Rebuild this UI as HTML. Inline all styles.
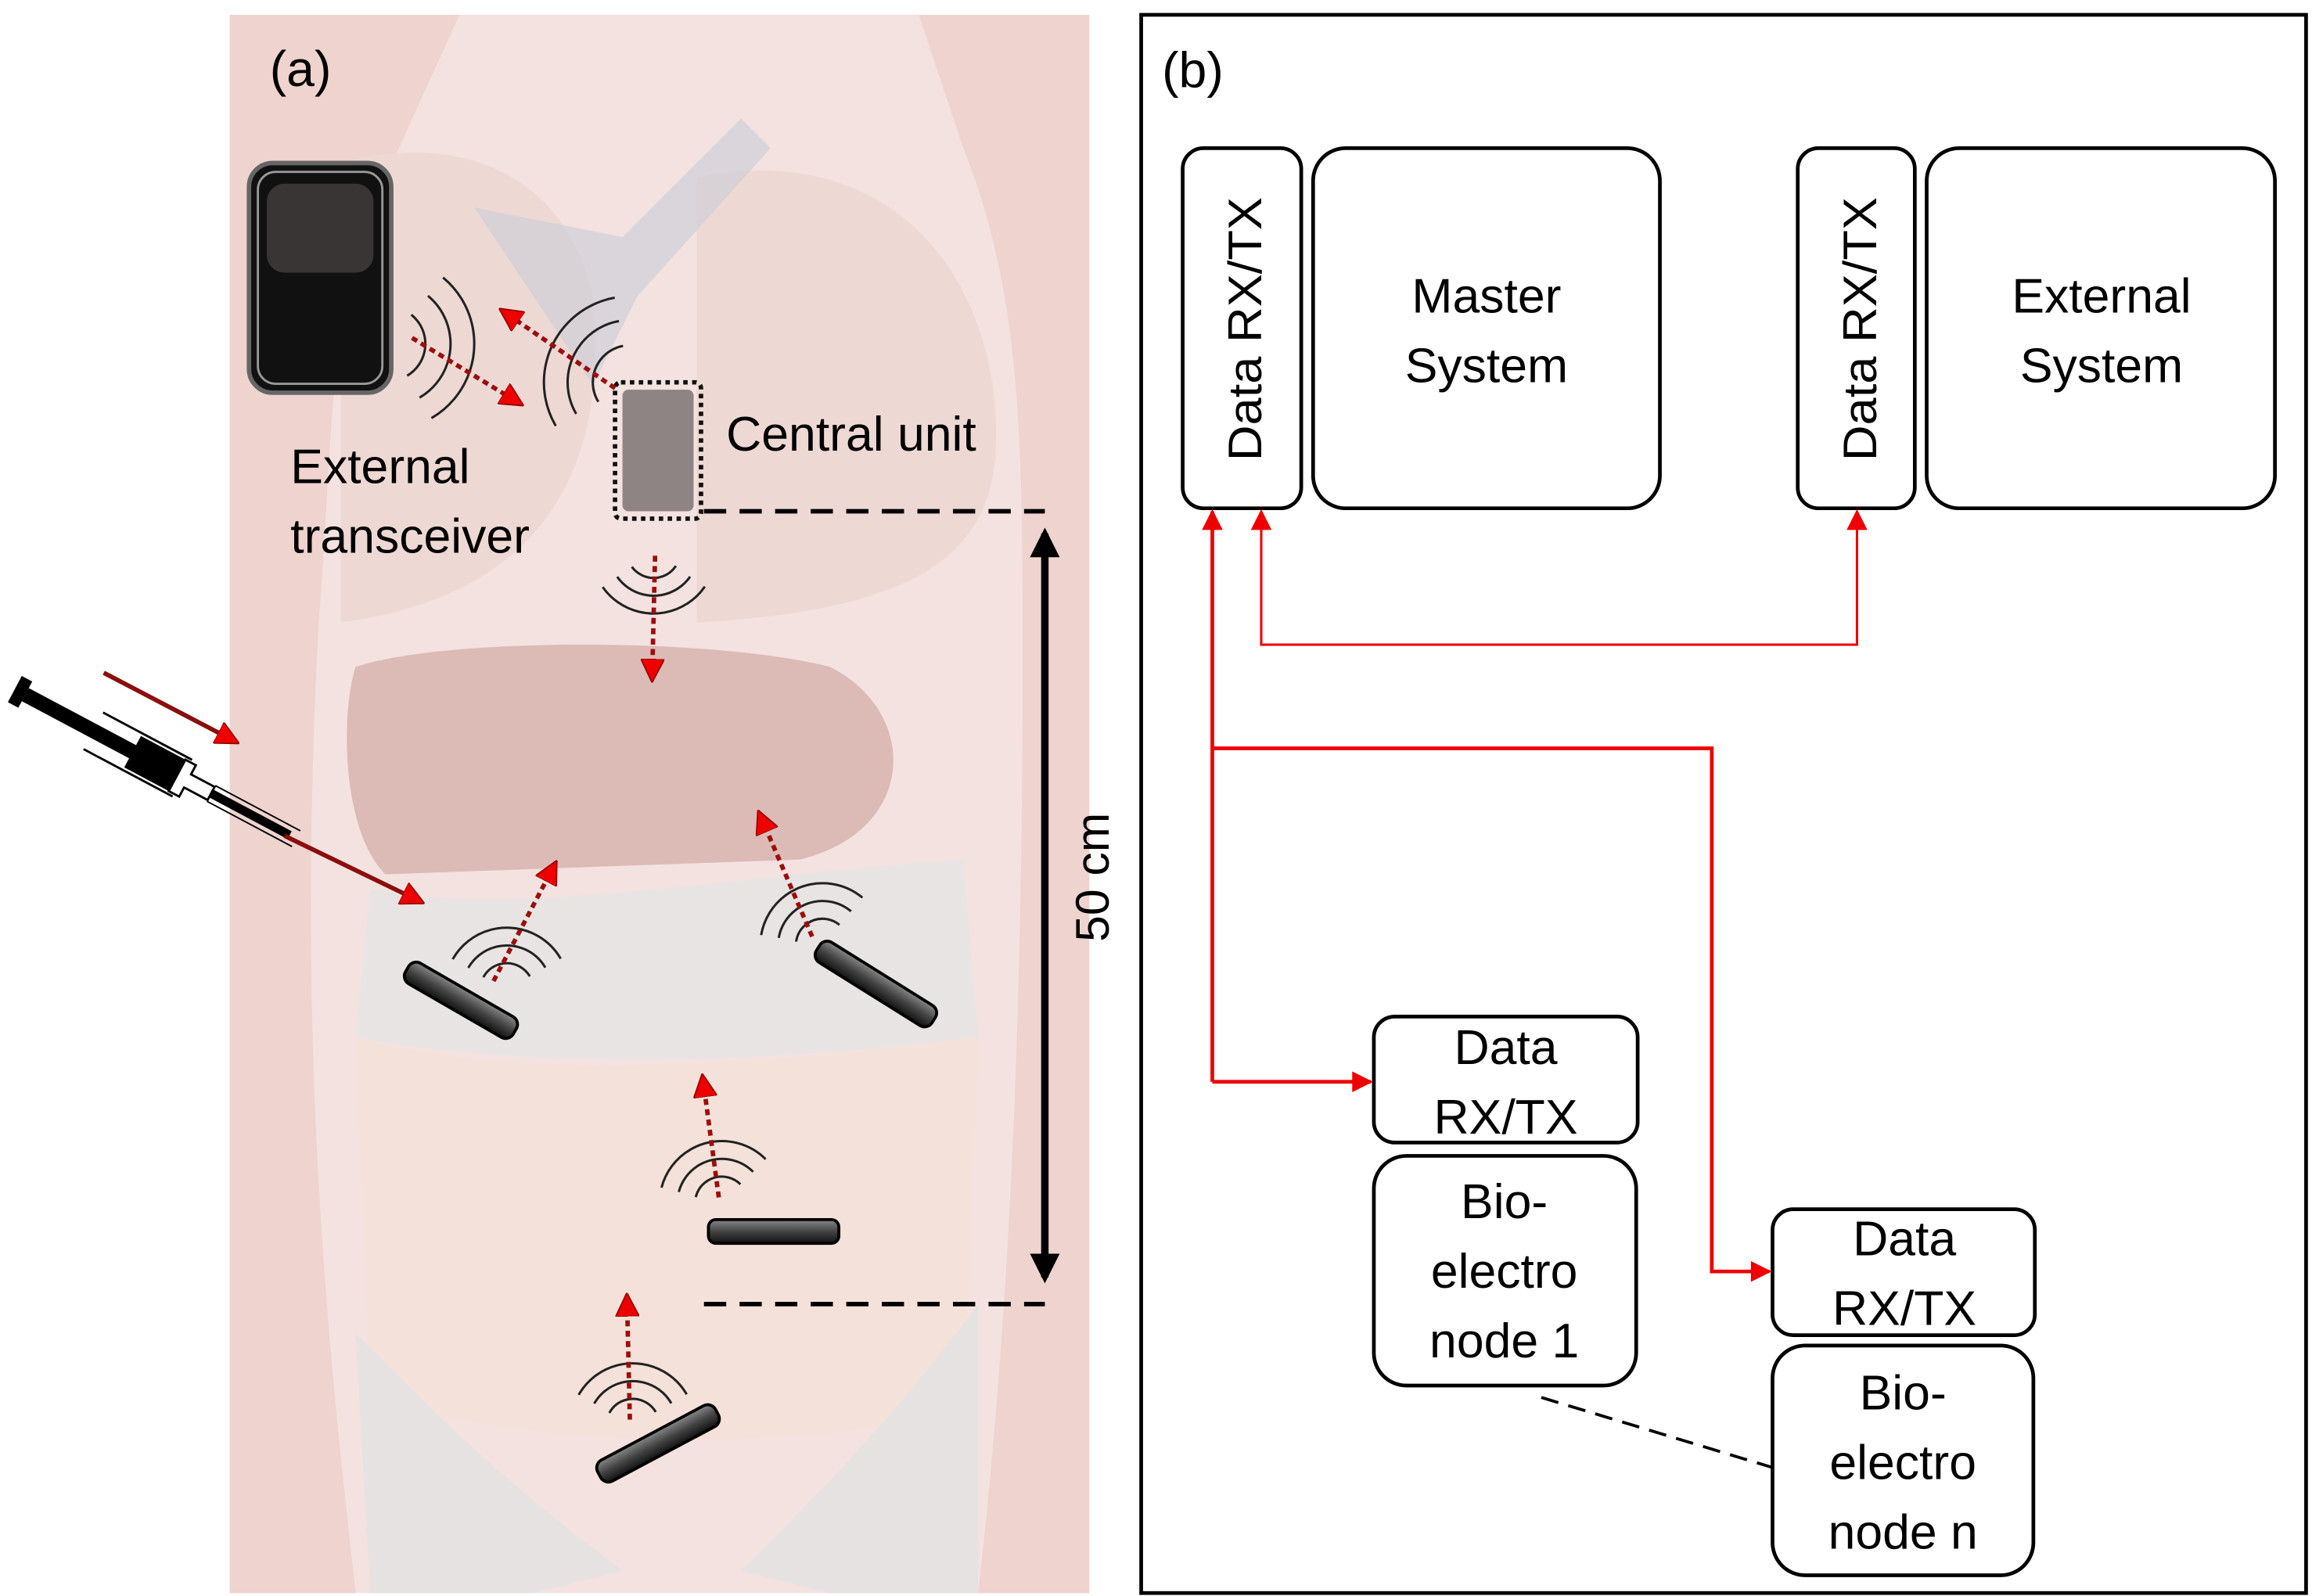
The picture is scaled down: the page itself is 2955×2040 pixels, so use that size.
<!DOCTYPE html>
<html><head><meta charset="utf-8"><style>
html,body{margin:0;padding:0;background:#fff}
svg{display:block}
text{font-family:"Liberation Sans",sans-serif;fill:#000}
</style></head><body>
<svg width="2955" height="2040" viewBox="0 0 1560 1077" preserveAspectRatio="none" xmlns="http://www.w3.org/2000/svg">
<defs>
<marker id="rh" viewBox="0 0 10 10" refX="9" refY="5" markerUnits="userSpaceOnUse" markerWidth="16" markerHeight="14" orient="auto-start-reverse"><path d="M0,0L10,5L0,10z" fill="#e00"/></marker>
<marker id="rb" viewBox="0 0 10 10" refX="9" refY="5" markerUnits="userSpaceOnUse" markerWidth="16" markerHeight="16" orient="auto"><path d="M0,0L10,5L0,10z" fill="#e00" stroke="#900" stroke-width="0.6"/></marker>
<marker id="bk" viewBox="0 0 10 10" refX="8" refY="5" markerUnits="userSpaceOnUse" markerWidth="22" markerHeight="20" orient="auto-start-reverse"><path d="M0,0L10,5L0,10z" fill="#000"/></marker>
<linearGradient id="sg" x1="0" y1="0" x2="0" y2="1"><stop offset="0" stop-color="#888"/><stop offset="0.5" stop-color="#444"/><stop offset="1" stop-color="#111"/></linearGradient>
</defs>
<rect width="1560" height="1077" fill="#fff"/>
<!-- panel a background -->
<rect x="155" y="10" width="580" height="1065" fill="#f3e2df"/>
<path d="M155,10 L155,1075 L240,1075 C220,900 200,700 215,420 C225,300 220,200 260,120 L310,10 Z" fill="#eed3cf"/>
<path d="M735,10 L735,1075 L660,1075 C680,900 690,700 690,450 C690,300 690,200 650,100 L620,10 Z" fill="#eed3cf"/>
<path d="M230,110 C300,90 380,110 400,200 C410,300 380,400 230,420 Z" fill="#eed8d4"/>
<path d="M470,120 C560,100 650,140 670,260 C680,350 660,410 470,420 Z" fill="#eed8d4"/>
<path d="M320,140 L420,160 L500,80 L520,100 L430,200 L400,260 Z" fill="#cfd0d9" opacity="0.7"/>
<path d="M240,450 C300,430 480,430 560,450 C620,480 620,560 540,580 L260,590 C230,560 230,480 240,450 Z" fill="#dcbab6"/>
<path d="M250,600 C350,620 500,590 650,580 L660,700 C500,720 350,720 240,700 Z" fill="#e8e4e3"/>
<path d="M240,700 C350,730 500,720 660,700 L650,950 C550,980 350,980 250,940 Z" fill="#f4e1d9"/>
<path d="M240,900 C300,960 340,1000 420,1060 L360,1075 L250,1075 Z" fill="#e6e2e1"/>
<path d="M660,880 C600,960 560,1000 500,1060 L560,1075 L660,1075 Z" fill="#e6e2e1"/>
<text x="182" y="58" font-size="34">(a)</text>
<!-- phone -->
<rect x="168" y="110" width="96" height="155" rx="16" fill="#111" stroke="#666" stroke-width="3"/>
<rect x="174" y="116" width="84" height="143" rx="12" fill="none" stroke="#999" stroke-width="1.5"/>
<rect x="180" y="124" width="72" height="60" rx="12" fill="#3a3535"/>
<!-- central unit -->
<rect x="415" y="258" width="58" height="92" rx="4" fill="none" stroke="#111" stroke-width="3" stroke-dasharray="3,3"/>
<rect x="420" y="263" width="48" height="82" rx="4" fill="#8e8483"/>
<text x="490" y="304" font-size="33">Central unit</text>
<text x="196" y="326" font-size="33">External</text>
<text x="196" y="373" font-size="33">transceiver</text>
<!-- dashed measure lines -->
<line x1="475" y1="345" x2="705" y2="345" stroke="#000" stroke-width="3" stroke-dasharray="15,9"/>
<line x1="475" y1="880" x2="705" y2="880" stroke="#000" stroke-width="3" stroke-dasharray="15,9"/>
<line x1="705" y1="360" x2="705" y2="862" stroke="#000" stroke-width="5" marker-start="url(#bk)" marker-end="url(#bk)"/>
<text transform="translate(748,592) rotate(-90)" font-size="32" text-anchor="middle">50 cm</text>
<!-- waves -->
<g fill="none" stroke="#222" stroke-width="1.6">
<g transform="translate(262,232)"><g transform="rotate(-50)"><circle r="25" pathLength="360" stroke-dasharray="110 250"/><circle r="42" pathLength="360" stroke-dasharray="110 250"/><circle r="58" pathLength="360" stroke-dasharray="110 250"/></g></g>
<g transform="translate(425,258)"><g transform="rotate(150)"><circle r="25" pathLength="360" stroke-dasharray="110 250"/><circle r="42" pathLength="360" stroke-dasharray="110 250"/><circle r="58" pathLength="360" stroke-dasharray="110 250"/></g></g>
<g transform="translate(441,372)"><g transform="rotate(35)"><circle r="18" pathLength="360" stroke-dasharray="110 250"/><circle r="30" pathLength="360" stroke-dasharray="110 250"/><circle r="42" pathLength="360" stroke-dasharray="110 250"/></g></g>
<g transform="translate(342,668)"><g transform="rotate(-150)"><circle r="18" pathLength="360" stroke-dasharray="120 240"/><circle r="30" pathLength="360" stroke-dasharray="120 240"/><circle r="42" pathLength="360" stroke-dasharray="120 240"/></g></g>
<g transform="translate(555,638)"><g transform="rotate(-170)"><circle r="18" pathLength="360" stroke-dasharray="120 240"/><circle r="30" pathLength="360" stroke-dasharray="120 240"/><circle r="42" pathLength="360" stroke-dasharray="120 240"/></g></g>
<g transform="translate(487,812)"><g transform="rotate(-165)"><circle r="18" pathLength="360" stroke-dasharray="120 240"/><circle r="30" pathLength="360" stroke-dasharray="120 240"/><circle r="42" pathLength="360" stroke-dasharray="120 240"/></g></g>
<g transform="translate(427,962)"><g transform="rotate(-150)"><circle r="18" pathLength="360" stroke-dasharray="120 240"/><circle r="30" pathLength="360" stroke-dasharray="120 240"/><circle r="42" pathLength="360" stroke-dasharray="120 240"/></g></g>
</g>
<!-- red dotted arrows -->
<g stroke="#9b0e0e" stroke-width="3" stroke-dasharray="4,3" fill="none">
<line x1="278" y1="228" x2="352" y2="273" marker-end="url(#rb)"/>
<line x1="415" y1="262" x2="338" y2="209" marker-end="url(#rb)"/>
<line x1="442" y1="375" x2="440" y2="459" marker-end="url(#rb)"/>
<line x1="333" y1="662" x2="375" y2="582" marker-end="url(#rb)"/>
<line x1="548" y1="632" x2="512" y2="548" marker-end="url(#rb)"/>
<line x1="485" y1="808" x2="474" y2="726" marker-end="url(#rb)"/>
<line x1="425" y1="958" x2="423" y2="874" marker-end="url(#rb)"/>
</g>
<!-- sensors -->
<g stroke="#000" stroke-width="2" fill="url(#sg)">
<rect x="-42" y="-8" width="84" height="16" rx="6" transform="translate(311,675) rotate(30)"/>
<rect x="-46" y="-8" width="92" height="16" rx="6" transform="translate(591,664) rotate(32)"/>
<rect x="-44" y="-8" width="88" height="16" rx="5" transform="translate(522,831)"/>
<rect x="-45" y="-8" width="90" height="16" rx="6" transform="translate(444,974) rotate(-28)"/>
</g>
<!-- syringe -->
<g transform="translate(10,465) rotate(28)">
<rect x="0" y="-10" width="8" height="20" fill="#000"/>
<rect x="8" y="-5" width="120" height="10" fill="#000"/>
<line x1="60" y1="-14" x2="128" y2="-14" stroke="#000" stroke-width="1.5"/>
<line x1="60" y1="14" x2="128" y2="14" stroke="#000" stroke-width="1.5"/>
<rect x="90" y="-12" width="34" height="24" fill="#000"/>
<path d="M124,-12 L132,-12 L132,-5 L150,-5 L150,5 L132,5 L132,12 L124,12Z" fill="#fff" stroke="#000" stroke-width="1.5"/>
<rect x="150" y="-3" width="60" height="6" fill="#000"/>
<line x1="150" y1="-6" x2="215" y2="-6" stroke="#000" stroke-width="1"/>
<line x1="150" y1="6" x2="215" y2="6" stroke="#000" stroke-width="1"/>
</g>
<line x1="70" y1="454" x2="160" y2="501" stroke="#8b0e0e" stroke-width="3" marker-end="url(#rb)"/>
<line x1="192" y1="564" x2="285" y2="609" stroke="#8b0e0e" stroke-width="3" marker-end="url(#rb)"/>

<!-- panel b -->
<rect x="770" y="10" width="786" height="1065" fill="#fff" stroke="#000" stroke-width="2.5"/>
<text x="784" y="59" font-size="34">(b)</text>
<g fill="#fff" stroke="#000" stroke-width="2.5">
<rect x="798" y="100" width="80" height="243" rx="14"/>
<rect x="886" y="100" width="234" height="243" rx="22"/>
<rect x="1213" y="100" width="79" height="243" rx="14"/>
<rect x="1300" y="100" width="235" height="243" rx="22"/>
<rect x="927" y="686" width="178" height="85" rx="14"/>
<rect x="927" y="780" width="177" height="155" rx="22"/>
<rect x="1196" y="816" width="177" height="85" rx="14"/>
<rect x="1196" y="908" width="176" height="155" rx="22"/>
</g>
<text transform="translate(851,222) rotate(-90)" font-size="32" text-anchor="middle" textLength="178" lengthAdjust="spacingAndGlyphs">Data RX/TX</text>
<text transform="translate(1266,222) rotate(-90)" font-size="32" text-anchor="middle" textLength="178" lengthAdjust="spacingAndGlyphs">Data RX/TX</text>
<g font-size="33" text-anchor="middle">
<text x="1003" y="211">Master</text><text x="1003" y="258">System</text>
<text x="1418" y="211">External</text><text x="1418" y="258">System</text>
<text x="1016" y="718">Data</text><text x="1016" y="765">RX/TX</text>
<text x="1015" y="822">Bio-</text><text x="1015" y="869">electro</text><text x="1015" y="916">node 1</text>
<text x="1285" y="847">Data</text><text x="1285" y="894">RX/TX</text>
<text x="1284" y="951">Bio-</text><text x="1284" y="998">electro</text><text x="1284" y="1045">node n</text>
</g>
<!-- red connectors -->
<g fill="none" stroke="#e00">
<path d="M818,730 L818,345" stroke-width="2.5" marker-end="url(#rh)"/>
<path d="M818,730 L925,730" stroke-width="2.5" marker-end="url(#rh)"/>
<path d="M818,505 L1155,505 L1155,858 L1194,858" stroke-width="2.5" marker-end="url(#rh)"/>
<path d="M851,345 L851,435 L1253,435 L1253,345" stroke-width="1.6" marker-start="url(#rh)" marker-end="url(#rh)"/>
</g>
<line x1="1040" y1="943" x2="1195" y2="990" stroke="#000" stroke-width="2" stroke-dasharray="12,7"/>
</svg>
</body></html>
